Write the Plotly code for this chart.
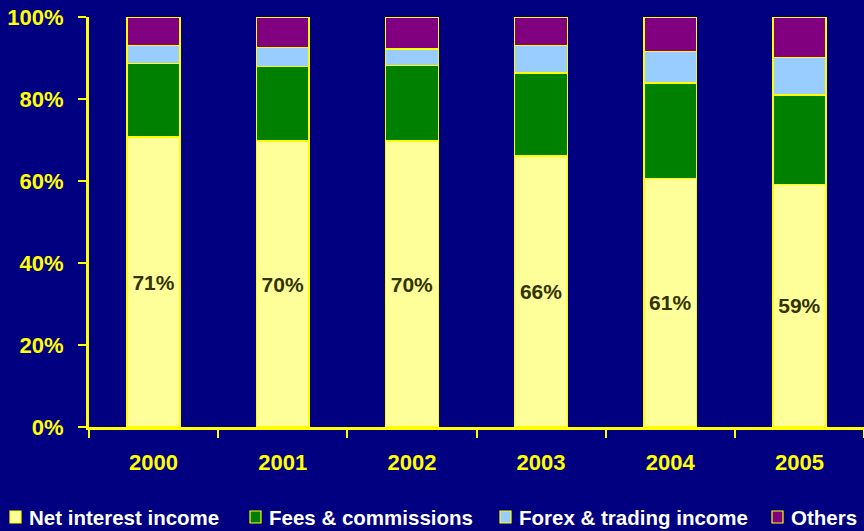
import plotly.graph_objects as go

years = ["2000", "2001", "2002", "2003", "2004", "2005"]
series_names = ["Net interest income", "Fees & commissions", "Forex & trading income", "Others"]
net_interest = [70.7, 69.7, 69.7, 66.1, 60.6, 59.2]
fees = [17.9, 18.2, 18.5, 20.3, 23.3, 21.8]
forex = [4.5, 4.7, 4.0, 6.6, 7.7, 9.1]
others = [6.9, 7.4, 7.8, 7.0, 8.4, 9.9]
colors = ["#FFFF99", "#008000", "#99CCFF", "#800080"]
y_ticks = [0, 20, 40, 60, 80, 100]

FONT = "Arial, Liberation Sans, sans-serif"
series_values = [net_interest, fees, forex, others]

fig = go.Figure()
for i, (name, vals, col) in enumerate(zip(series_names, series_values, colors)):
    kw = {}
    if i == 0:
        kw = dict(
            text=[f"{round(v)}%" for v in vals],
            textposition="inside",
            insidetextanchor="middle",
            textangle=0,
            textfont=dict(family=FONT, size=21, color="#333300", weight="bold"),
        )
    fig.add_trace(go.Bar(
        x=years, y=vals, name=name,
        marker=dict(color=col, line=dict(color="#FFFF00", width=1.5)),
        width=0.41, showlegend=False, hoverinfo="skip", **kw))

# plot area in pixels, used to place the hand-made legend
L, R, T, B, W, H = 89, 0, 17, 104, 864, 531
pw, ph = W - L - R, H - T - B

def px_x(px):
    return (px - L) / pw

def px_y(py):
    return (H - B - py) / ph

legend_x = [10, 250, 500, 772]
legend_y = 517
shapes, annotations = [], []
for name, col, lx in zip(series_names, colors, legend_x):
    shapes.append(dict(type="rect", xref="paper", yref="paper",
                       x0=px_x(lx), x1=px_x(lx + 11), y0=px_y(legend_y + 6), y1=px_y(legend_y - 6),
                       fillcolor=col, line=dict(color="#FFFF00", width=1.2)))
    annotations.append(dict(text=name, xref="paper", yref="paper", x=px_x(lx + 17), y=px_y(legend_y),
                            xanchor="left", yanchor="middle", showarrow=False,
                            font=dict(family=FONT, size=20.5, color="white", weight="bold")))

fig.update_layout(
    barmode="stack",
    width=W, height=H,
    margin=dict(l=L, r=R, t=T, b=B, pad=0),
    paper_bgcolor="#000080", plot_bgcolor="#000080",
    shapes=shapes, annotations=annotations,
    xaxis=dict(type="category", range=[-0.5, 5.5], showline=True, linecolor="#FFFF00", linewidth=3,
               ticks="outside", tickson="boundaries", ticklen=8, tickwidth=2, tickcolor="#FFFF00",
               ticklabelstandoff=14, showgrid=False,
               tickfont=dict(family=FONT, size=22, color="#FFFF00", weight="bold")),
    yaxis=dict(range=[0, 100], tickvals=y_ticks, ticktext=[f"{v}%" for v in y_ticks],
               showline=True, linecolor="#FFFF00", linewidth=3, ticks="outside", ticklen=8,
               tickwidth=2, tickcolor="#FFFF00", ticklabelstandoff=10, showgrid=False, zeroline=False,
               tickfont=dict(family=FONT, size=22, color="#FFFF00", weight="bold")),
)

fig.write_html("out.html", config={"displayModeBar": False},
               post_script="document.body.style.margin='0';document.body.style.overflow='hidden';")
